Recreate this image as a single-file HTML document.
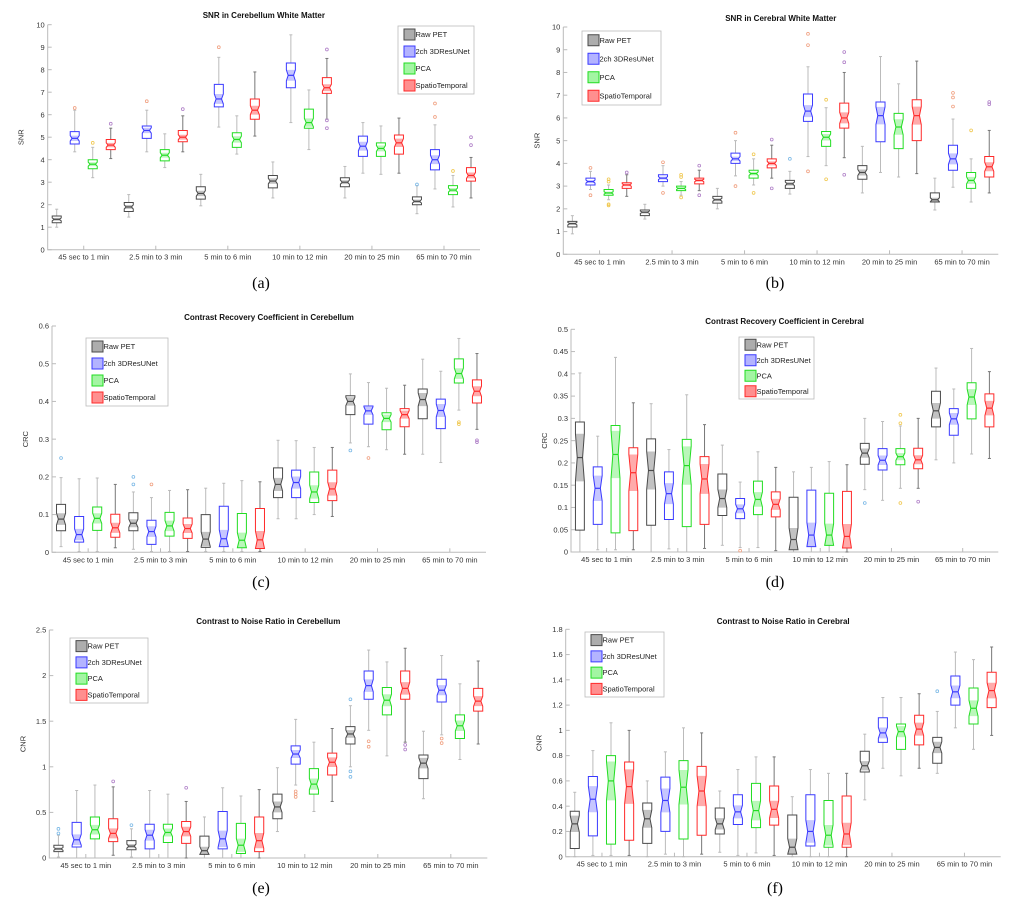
<!DOCTYPE html>
<html><head><meta charset="utf-8">
<style>
html,body{margin:0;padding:0;background:#fff;}
svg{display:block;font-family:"Liberation Sans",Arial,sans-serif;}
.tick{font-size:7.5px;fill:#333;}
.ttl{font-size:8px;font-weight:bold;fill:#111;}
.cap{font-family:"Liberation Serif",serif;font-size:16px;fill:#000;}
.leg{font-size:7.5px;fill:#222;}
</style></head>
<body>
<svg id="fig" width="1018" height="906" viewBox="0 0 1018 906" xmlns="http://www.w3.org/2000/svg"></svg>
<script>
const categories = ["45 sec to 1  min","2.5 min to 3 min","5 min to 6 min","10 min to 12 min","20 min to 25 min","65 min to 70 min"];
const seriesNames = ["Raw PET","2ch 3DResUNet","PCA","SpatioTemporal"];
// stats: per box [whiskerLow, q1, median, q3, whiskerHigh], ordered group by group, 4 series each
const snrCbStats = [
 [1.0,1.2,1.35,1.5,1.8],[4.35,4.7,4.95,5.25,6.2],[3.2,3.6,3.8,4.0,4.55],[4.05,4.45,4.65,4.9,5.4],
 [1.45,1.7,1.9,2.1,2.45],[4.35,4.95,5.3,5.5,6.2],[3.65,3.95,4.2,4.45,5.15],[4.35,4.8,5.0,5.3,5.95],
 [1.95,2.25,2.5,2.8,3.35],[5.45,6.35,6.7,7.35,8.55],[4.25,4.55,4.9,5.2,5.95],[5.05,5.8,6.2,6.7,7.9],
 [2.3,2.75,3.05,3.3,3.9],[5.65,7.2,7.75,8.3,9.55],[4.45,5.4,5.65,6.25,7.1],[5.8,6.95,7.2,7.65,8.5],
 [2.3,2.8,3.0,3.2,3.7],[3.4,4.15,4.6,5.05,5.65],[3.35,4.15,4.5,4.75,5.5],[3.4,4.25,4.75,5.1,5.85],
 [1.6,2.0,2.15,2.35,2.85],[2.7,3.55,4.0,4.45,5.55],[1.9,2.45,2.65,2.85,3.3],[2.3,3.05,3.3,3.65,4.1]];
const snrCbOutliers = [[1,6.3],[2,4.75],[3,5.6],[5,6.6],[7,6.25],[9,9.0],[15,8.9],[15,5.75],[15,5.4],[20,2.9],[21,6.5],[21,5.9],[22,3.5],[23,5.0],[23,4.65]];
const snrCrStats = [
 [0.9,1.2,1.35,1.45,1.7],[2.85,3.05,3.2,3.35,3.65],[2.4,2.6,2.7,2.85,3.05],[2.55,2.9,3.05,3.15,3.5],
 [1.55,1.7,1.85,1.95,2.2],[3.0,3.2,3.35,3.5,3.9],[2.6,2.8,2.9,3.0,3.2],[2.8,3.1,3.25,3.35,3.7],
 [2.0,2.25,2.4,2.55,2.9],[3.45,4.0,4.2,4.45,5.0],[3.05,3.35,3.55,3.7,4.2],[3.35,3.8,4.0,4.2,4.8],
 [2.65,2.9,3.1,3.25,3.65],[4.3,5.85,6.3,7.05,8.25],[3.9,4.75,5.15,5.4,6.45],[4.25,5.55,6.0,6.65,8.0],
 [2.7,3.3,3.6,3.9,4.75],[3.6,4.95,6.1,6.7,8.7],[3.4,4.65,5.6,6.2,7.5],[3.55,5.0,6.1,6.8,8.5],
 [1.95,2.3,2.4,2.7,3.35],[2.95,3.7,4.2,4.8,5.95],[2.3,2.9,3.25,3.6,4.2],[2.7,3.4,3.85,4.3,5.45]];
const snrCrOutliers = [[1,3.8],[1,2.6],[2,3.3],[2,3.2],[2,2.2],[2,2.15],[3,3.6],[5,4.05],[5,2.7],[6,3.5],[6,3.4],[6,2.5],[7,3.9],[7,2.6],[9,5.35],[9,3.0],[10,4.4],[10,2.7],[11,5.05],[11,2.9],[12,4.2],[13,9.7],[13,9.2],[13,3.65],[14,6.8],[14,3.3],[15,8.9],[15,8.45],[15,3.5],[21,7.1],[21,6.9],[21,6.5],[22,5.45],[23,6.7],[23,6.6]];
const crcCbStats = [
 [0.015,0.057,0.088,0.127,0.198],[0.002,0.027,0.047,0.095,0.195],[0.002,0.058,0.09,0.12,0.197],[0.012,0.04,0.065,0.101,0.18],
 [0.008,0.057,0.077,0.105,0.16],[0.002,0.021,0.055,0.085,0.145],[0.002,0.043,0.07,0.106,0.164],[0.002,0.037,0.063,0.091,0.166],
 [0.002,0.013,0.035,0.1,0.17],[0.002,0.015,0.036,0.122,0.183],[0.002,0.012,0.032,0.103,0.19],[0.002,0.01,0.033,0.116,0.187],
 [0.089,0.145,0.18,0.224,0.297],[0.089,0.145,0.185,0.218,0.296],[0.1,0.132,0.16,0.213,0.278],[0.095,0.137,0.168,0.218,0.278],
 [0.29,0.365,0.4,0.415,0.473],[0.28,0.34,0.375,0.388,0.45],[0.272,0.325,0.355,0.37,0.435],[0.26,0.333,0.365,0.381,0.443],
 [0.26,0.354,0.405,0.433,0.512],[0.238,0.328,0.376,0.406,0.48],[0.377,0.449,0.474,0.513,0.567],[0.326,0.396,0.427,0.457,0.527]];
const crcCbOutliers = [[0,0.25],[4,0.2],[4,0.18],[5,0.18],[16,0.27],[17,0.25],[22,0.345],[22,0.34],[23,0.297],[23,0.292]];
const crcCrStats = [
 [0.0,0.049,0.212,0.292,0.402],[0.005,0.062,0.143,0.191,0.26],[0.005,0.043,0.219,0.284,0.437],[0.005,0.048,0.178,0.234,0.335],
 [0.0,0.06,0.183,0.254,0.333],[0.007,0.073,0.131,0.18,0.23],[0.0,0.057,0.194,0.253,0.353],[0.008,0.062,0.164,0.214,0.286],
 [0.015,0.082,0.12,0.175,0.24],[0.01,0.075,0.097,0.12,0.157],[0.01,0.084,0.118,0.159,0.225],[0.003,0.079,0.107,0.135,0.19],
 [0.0,0.005,0.028,0.123,0.18],[0.0,0.012,0.038,0.139,0.19],[0.0,0.015,0.038,0.132,0.203],[0.0,0.009,0.035,0.136,0.196],
 [0.14,0.197,0.222,0.244,0.3],[0.116,0.184,0.206,0.232,0.293],[0.143,0.196,0.214,0.232,0.283],[0.143,0.187,0.207,0.233,0.3],
 [0.207,0.281,0.317,0.361,0.413],[0.2,0.262,0.299,0.322,0.366],[0.22,0.299,0.348,0.38,0.457],[0.21,0.281,0.323,0.355,0.405]];
const crcCrOutliers = [[9,0.003],[16,0.11],[18,0.308],[18,0.289],[18,0.11],[19,0.113]];
const cnrCbStats = [
 [0.01,0.07,0.1,0.14,0.25],[0.0,0.12,0.2,0.39,0.74],[0.0,0.21,0.31,0.45,0.8],[0.03,0.18,0.27,0.43,0.78],
 [0.01,0.09,0.13,0.19,0.32],[0.0,0.1,0.25,0.37,0.74],[0.0,0.17,0.28,0.37,0.7],[0.0,0.16,0.29,0.4,0.62],
 [0.0,0.04,0.08,0.24,0.45],[0.0,0.1,0.21,0.51,0.77],[0.0,0.05,0.14,0.38,0.68],[0.0,0.07,0.19,0.45,0.75],
 [0.29,0.43,0.56,0.7,0.99],[0.8,1.03,1.14,1.23,1.52],[0.51,0.7,0.81,0.98,1.27],[0.62,0.91,1.05,1.15,1.42],
 [1.0,1.25,1.36,1.44,1.67],[1.4,1.74,1.89,2.05,2.28],[1.12,1.57,1.73,1.87,2.15],[1.27,1.74,1.86,2.05,2.3],
 [0.65,0.87,1.04,1.13,1.39],[1.35,1.71,1.84,1.96,2.22],[1.08,1.31,1.45,1.57,1.91],[1.25,1.61,1.72,1.86,2.16]];
const cnrCbOutliers = [[0,0.32],[0,0.27],[3,0.84],[4,0.36],[7,0.77],[13,0.73],[13,0.7],[13,0.67],[16,1.74],[16,0.95],[16,0.89],[17,1.28],[17,1.22],[19,1.24],[19,1.19],[21,1.31],[21,1.26]];
const cnrCrStats = [
 [0.0,0.065,0.26,0.36,0.51],[0.01,0.165,0.455,0.635,0.84],[0.01,0.1,0.6,0.8,1.06],[0.01,0.13,0.555,0.75,1.0],
 [0.0,0.105,0.3,0.425,0.6],[0.02,0.2,0.445,0.63,0.83],[0.0,0.14,0.55,0.76,1.02],[0.02,0.17,0.52,0.715,0.98],
 [0.035,0.18,0.26,0.385,0.52],[0.01,0.255,0.355,0.49,0.69],[0.03,0.23,0.365,0.58,0.79],[0.01,0.25,0.375,0.56,0.79],
 [0.0,0.02,0.075,0.33,0.475],[0.0,0.085,0.2,0.49,0.69],[0.0,0.075,0.17,0.445,0.66],[0.0,0.075,0.18,0.48,0.66],
 [0.45,0.67,0.72,0.835,0.97],[0.7,0.905,0.98,1.1,1.26],[0.64,0.85,0.99,1.05,1.26],[0.7,0.885,1.01,1.12,1.29],
 [0.66,0.74,0.865,0.945,1.15],[1.02,1.2,1.305,1.43,1.62],[0.85,1.05,1.175,1.335,1.56],[0.96,1.18,1.315,1.46,1.66]];
const cnrCrOutliers = [[20,1.31]];
const snrTicks = [0,1,2,3,4,5,6,7,8,9,10];
const crcCbTicks = [0,0.1,0.2,0.3,0.4,0.5,0.6];
const crcCrTicks = [0,0.05,0.1,0.15,0.2,0.25,0.3,0.35,0.4,0.45,0.5];
const cnrCbTicks = [0,0.5,1,1.5,2,2.5];
const cnrCrTicks = [0,0.2,0.4,0.6,0.8,1,1.2,1.4,1.6,1.8];

const strokeCols = ["#4a4a4a","#3a3aff","#22dd22","#ff2a2a"];
const fillCols = ["#777","#8080ff","#66ee66","#ff4444"];
const whiskCols = ["#bbb","#bbb","#bbb","#777"];
const outCols = ["#7ab8e6","#f0a080","#f0c850","#b080c8"];

const panels = [
 {id:"a",title:"SNR in Cerebellum White Matter",ylab:"SNR",stats:snrCbStats,outs:snrCbOutliers,ticks:snrTicks,dec:0,L:47.7,R:480,T:24.7,B:249.7,tY:20,leg:[398,26,76,68],cap:[261,288]},
 {id:"b",title:"SNR in Cerebral White Matter",ylab:"SNR",stats:snrCrStats,outs:snrCrOutliers,ticks:snrTicks,dec:0,L:563.3,R:998.3,T:27,B:254.3,tY:23,leg:[582,31,79,74],cap:[775,288]},
 {id:"c",title:"Contrast Recovery Coefficient in Cerebellum",ylab:"CRC",stats:crcCbStats,outs:crcCbOutliers,ticks:crcCbTicks,dec:1,L:52,R:486,T:326,B:552.3,tY:322,leg:[86,338,82,68],cap:[261,587]},
 {id:"d",title:"Contrast Recovery Coefficient in Cerebral",ylab:"CRC",stats:crcCrStats,outs:crcCrOutliers,ticks:crcCrTicks,dec:2,L:571,R:998.3,T:329.3,B:552,tY:326,leg:[739,337,75,62],cap:[775,587]},
 {id:"e",title:"Contrast to Noise Ratio in Cerebellum",ylab:"CNR",stats:cnrCbStats,outs:cnrCbOutliers,ticks:cnrCbTicks,dec:1,L:49.3,R:487.3,T:630,B:858,tY:626,leg:[70,638,78,65],cap:[261,893]},
 {id:"f",title:"Contrast to Noise Ratio in Cerebral",ylab:"CNR",stats:cnrCrStats,outs:cnrCrOutliers,ticks:cnrCrTicks,dec:1,L:565.7,R:1000.7,T:629.3,B:856.7,tY:626,leg:[585,632,79,65],cap:[775,893]}
];

const NS="http://www.w3.org/2000/svg";
const svg=document.getElementById('fig');
function mk(tag,attrs,parent){const e=document.createElementNS(NS,tag);for(const k in attrs)e.setAttribute(k,attrs[k]);(parent||svg).appendChild(e);return e;}
function fmt(v,d){let s=v.toFixed(d);if(d>0){s=s.replace(/0+$/,'').replace(/\.$/,'');}return s;}

panels.forEach(p=>{
  const g=mk('g',{});
  
  
  const ymax=p.ticks[p.ticks.length-1], ymin=p.ticks[0];
  const y=v=>p.B-(v-ymin)/(ymax-ymin)*(p.B-p.T);
  const n=p.stats.length, step=(p.R-p.L)/n;
  const x=k=>p.L+(k+0.5)*step;
  const bw=step*0.5;
  const ax=mk('path',{d:`M${p.L},${p.T} L${p.L},${p.B} L${p.R},${p.B}`,fill:'none',stroke:'#bbb','stroke-width':1},g);
  
  
  p.ticks.forEach(t=>{
    mk('line',{x1:p.L,x2:p.L+4,y1:y(t),y2:y(t),stroke:'#bbb'},g);
    const tl=mk('text',{x:p.L-3,y:y(t)+2.6,'text-anchor':'end',class:'tick'},g);
    tl.textContent=fmt(t,p.dec);
    
    
  });
  categories.forEach((c,i)=>{
    const cx=p.L+(i+0.5)*(p.R-p.L)/categories.length;
    mk('line',{x1:cx,x2:cx,y1:p.B,y2:p.B-4,stroke:'#bbb'},g);
    const tl=mk('text',{x:cx,y:p.B+10,'text-anchor':'middle',class:'tick'},g);
    tl.textContent=c;
    
    
  });
  const tt=mk('text',{x:(p.L+p.R)/2,y:p.tY-2,'text-anchor':'middle',class:'ttl'},g);
  tt.textContent=p.title;
  
  
  const yl=mk('text',{x:0,y:0,'text-anchor':'middle',class:'tick',transform:`translate(${p.L-24},${(p.T+p.B)/2}) rotate(-90)`},g);
  yl.textContent=p.ylab;
  
  
  const cp=mk('text',{x:p.cap[0],y:p.cap[1],'text-anchor':'middle',class:'cap'},g);
  cp.textContent='('+p.id+')';
  
  
  p.stats.forEach((s,k)=>{
    const si=k%4, cx=x(k), x0=cx-bw/2, x1=cx+bw/2, ind=bw*0.2;
    const [lo,q1,md,q3,hi]=s;
    const nh=0.22*(q3-q1);
    const nlo=Math.max(q1,md-nh), nhi=Math.min(q3,md+nh);
    const bg=mk('g',{},g);
    
    
    mk('line',{x1:cx,x2:cx,y1:y(hi),y2:y(q3),stroke:whiskCols[si],'stroke-width':1},bg);
    mk('line',{x1:cx,x2:cx,y1:y(q1),y2:y(lo),stroke:whiskCols[si],'stroke-width':1},bg);
    mk('line',{x1:cx-1.5,x2:cx+1.5,y1:y(hi),y2:y(hi),stroke:whiskCols[si]},bg);
    mk('line',{x1:cx-1.5,x2:cx+1.5,y1:y(lo),y2:y(lo),stroke:whiskCols[si]},bg);
    mk('polygon',{points:`${x0},${y(nlo)} ${x0+ind},${y(md)} ${x0},${y(nhi)} ${x1},${y(nhi)} ${x1-ind},${y(md)} ${x1},${y(nlo)}`,fill:fillCols[si],'fill-opacity':0.45,stroke:'none'},bg);
    mk('polygon',{points:`${x0},${y(q1)} ${x0},${y(nlo)} ${x0+ind},${y(md)} ${x0},${y(nhi)} ${x0},${y(q3)} ${x1},${y(q3)} ${x1},${y(nhi)} ${x1-ind},${y(md)} ${x1},${y(nlo)} ${x1},${y(q1)}`,fill:'none',stroke:strokeCols[si],'stroke-width':1},bg);
    mk('line',{x1:x0+ind,x2:x1-ind,y1:y(md),y2:y(md),stroke:strokeCols[si],'stroke-width':1.2},bg);
  });
  p.outs.forEach(o=>{
    const c=mk('circle',{cx:x(o[0]),cy:y(o[1]),r:1.4,fill:'none',stroke:outCols[o[0]%4],'stroke-width':0.8},g);
    
    
  });
  const [lx,ly,lw,lh]=p.leg;
  const lg=mk('g',{},g);
  
  
  mk('rect',{x:lx,y:ly,width:lw,height:lh,fill:'#fff',stroke:'#bbb','stroke-width':0.8},lg);
  const rowH=lh/4;
  seriesNames.forEach((nm,i)=>{
    const ry=ly+rowH*i+rowH/2;
    const sw=Math.min(11,rowH-4);
    const e=mk('g',{},lg);
    
    
    mk('rect',{x:lx+6,y:ry-sw/2,width:sw,height:sw,fill:fillCols[i],'fill-opacity':0.6,stroke:strokeCols[i],'stroke-width':1},e);
    const t=mk('text',{x:lx+6+sw+0.5,y:ry+2.6,class:'leg'},e);
    t.textContent=nm;
  });
});
</script>
</body></html>
